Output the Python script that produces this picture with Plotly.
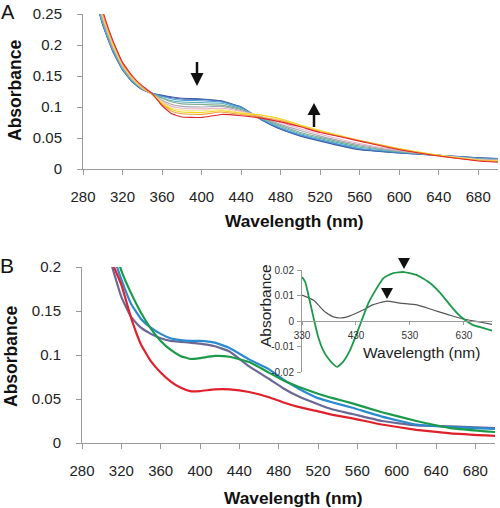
import plotly.graph_objects as go

# ---------------- Panel A data ----------------
WL_A = [290, 300, 310, 320, 330, 340, 350, 360, 370, 380, 400, 420, 440, 460, 480, 500, 520, 560, 600, 640, 680, 700]
A_00 = [.290, .232, .190, .160, .140, .128, .122, .119, .116, .114, .113, .110, .100, .080, .064, .053, .045, .031, .026, .022, .018, .017]
A_01 = [.291, .233, .191, .160, .140, .128, .122, .118, .115, .113, .112, .109, .100, .080, .065, .054, .046, .032, .026, .022, .018, .017]
A_02 = [.293, .234, .192, .161, .141, .129, .122, .117, .113, .111, .110, .108, .099, .081, .066, .055, .047, .033, .027, .022, .017, .016]
A_03 = [.296, .237, .194, .162, .142, .129, .122, .115, .110, .108, .107, .106, .097, .082, .068, .057, .049, .035, .028, .022, .017, .016]
A_04 = [.299, .239, .195, .164, .143, .130, .121, .114, .108, .105, .104, .103, .096, .083, .070, .059, .051, .037, .028, .022, .016, .015]
A_05 = [.303, .242, .198, .165, .144, .130, .121, .111, .104, .101, .100, .101, .094, .084, .072, .062, .053, .039, .029, .022, .016, .015]
A_06 = [.306, .244, .200, .166, .145, .131, .121, .109, .101, .098, .097, .098, .093, .085, .075, .065, .056, .041, .030, .022, .015, .014]
A_07 = [.309, .247, .201, .168, .146, .131, .121, .108, .098, .095, .094, .096, .091, .087, .080, .070, .061, .045, .032, .022, .015, .013]
A_08 = [.312, .249, .203, .169, .147, .132, .121, .106, .096, .092, .091, .094, .090, .087, .081, .071, .062, .046, .033, .022, .014, .013]
A_09 = [.315, .251, .205, .170, .148, .132, .120, .104, .093, .089, .088, .092, .088, .084, .078, .069, .060, .046, .032, .021, .014, .012]
A_10 = [.320, .255, .208, .172, .150, .134, .122, .102, .089, .084, .083, .088, .086, .082, .076, .068, .059, .045, .031, .021, .013, .011]
SPECTRA_A = [A_00, A_01, A_02, A_03, A_04, A_05, A_06, A_07, A_08, A_09, A_10]
COLORS_A = ['#45529A', '#3A6FB8', '#4F9AD2', '#5AAFC0', '#7FAE8E', '#A7A7B5',
            '#EAB2C4', '#F3E58A', '#F6D21A', '#F2A33A', '#DC2530']

# ---------------- Panel B data ----------------
WL_B = [305, 310, 320, 330, 340, 350, 360, 370, 380, 390, 400, 415, 430, 450, 470, 485, 500, 520, 535, 555, 585, 620, 655, 700]
B_PURPLE = [.228, .203, .166, .143, .131, .124, .119, .116, .115, .114, .113, .110, .104, .087, .073, .062, .053, .044, .038, .033, .025, .020, .019, .017]
B_BLUE = [.240, .220, .186, .158, .141, .131, .124, .119, .117, .116, .116, .114, .108, .095, .084, .072, .062, .051, .046, .040, .030, .021, .018, .016]
B_GREEN = [.250, .232, .196, .170, .148, .130, .116, .106, .099, .0955, .0965, .099, .098, .092, .080, .071, .064, .056, .051, .045, .035, .025, .017, .0125]
B_RED = [.236, .207, .180, .142, .112, .093, .080, .070, .063, .059, .059, .061, .061, .058, .052, .046, .041, .036, .032, .028, .021, .015, .011, .008]

# ---------------- Inset data ----------------
WL_IG = [330, 336, 341, 351, 360, 369, 378, 388, 395, 406, 419, 434, 443, 453, 466, 481, 499, 519, 543, 567, 586, 604, 619, 632, 647, 665, 682]
INS_GREEN = [.0173, .0153, .011, .0016, -.0063, -.0114, -.0145, -.0169, -.018, -.016, -.0114, -.0035, .0016, .007, .012, .0168, .0188, .0192, .018, .0149, .011, .0063, .0027, .0004, -.0016, -.0027, -.0038]
WL_IK = [330, 351, 373, 388, 404, 419, 443, 461, 487, 511, 543, 573, 598, 628, 659, 682]
INS_GRAY = [.0102, .0082, .0035, .0016, .0012, .002, .0043, .0063, .0078, .007, .0063, .0043, .0027, .0008, -.0004, -.0013]

X_TICKS = [280, 320, 360, 400, 440, 480, 520, 560, 600, 640, 680]
YA_TICKS = [0, 0.05, 0.1, 0.15, 0.2, 0.25]
YA_TEXT = ['0', '0.05', '0.1', '0.15', '0.2', '0.25']
YB_TICKS = [0, 0.05, 0.1, 0.15, 0.2]
YB_TEXT = ['0', '0.05', '0.1', '0.15', '0.2']
XI_TICKS = [330, 430, 530, 630]
YI_TICKS = [-0.02, -0.01, 0, 0.01, 0.02]
YI_TEXT = ['-0.02', '-0.01', '0', '0.01', '0.02']

W, H = 500, 508
FONT = 'Arial, "Liberation Sans", sans-serif'
AXC = '#9a9a9a'


def px(x):
    return x / W


def py(y):
    return 1 - y / H


fig = go.Figure()
for spec, col in zip(SPECTRA_A, COLORS_A):
    fig.add_trace(go.Scatter(x=WL_A, y=spec, mode='lines', xaxis='x', yaxis='y',
                             line=dict(color=col, width=1.1, shape='spline', smoothing=0.35),
                             hoverinfo='skip'))

for spec, col in [(B_PURPLE, '#6A6896'), (B_BLUE, '#2A8AD0'), (B_GREEN, '#1A9A4A'), (B_RED, '#E0202A')]:
    fig.add_trace(go.Scatter(x=WL_B, y=spec, mode='lines', xaxis='x2', yaxis='y2',
                             line=dict(color=col, width=2.2, shape='spline', smoothing=0.35),
                             hoverinfo='skip'))

fig.add_trace(go.Scatter(x=WL_IK, y=INS_GRAY, mode='lines', xaxis='x3', yaxis='y3',
                         line=dict(color='#555555', width=1.2, shape='spline', smoothing=0.5),
                         hoverinfo='skip'))
fig.add_trace(go.Scatter(x=WL_IG, y=INS_GREEN, mode='lines', xaxis='x3', yaxis='y3',
                         line=dict(color='#1A9A4A', width=1.8, shape='spline', smoothing=0.5),
                         hoverinfo='skip'))

common = dict(showline=True, linecolor=AXC, linewidth=1, ticks='outside', tickcolor=AXC,
              ticklen=5, showgrid=False, zeroline=False, automargin=False,
              tickfont=dict(family=FONT, size=15, color='#222'))

fig.update_layout(
    width=W, height=H, margin=dict(l=0, r=0, t=0, b=0, pad=0), autosize=False,
    paper_bgcolor='white', plot_bgcolor='rgba(0,0,0,0)', showlegend=False,
    xaxis=dict(domain=[px(83), px(498)], range=[280, 700], anchor='y', tickvals=X_TICKS,
               ticklabelstandoff=9, **common),
    yaxis=dict(domain=[py(169), py(14)], range=[0, 0.25], anchor='x', tickvals=YA_TICKS,
               ticktext=YA_TEXT, ticklabelstandoff=12, **common),
    xaxis2=dict(domain=[px(82), px(495)], range=[280, 700], anchor='y2', tickvals=X_TICKS,
                ticklabelstandoff=9, **common),
    yaxis2=dict(domain=[py(443), py(267)], range=[0, 0.2], anchor='x2', tickvals=YB_TICKS,
                ticktext=YB_TEXT, ticklabelstandoff=12, **common),
    xaxis3=dict(domain=[px(302), px(492)], range=[330, 682], anchor='free', position=py(321),
                tickvals=XI_TICKS, showline=True, linecolor=AXC, ticks='outside', tickcolor=AXC,
                ticklen=3, showgrid=False, zeroline=False, ticklabelstandoff=2, automargin=False,
                tickfont=dict(family=FONT, size=10, color='#333')),
    yaxis3=dict(domain=[py(372), py(270)], range=[-0.02, 0.02], anchor='x3', tickvals=YI_TICKS,
                ticktext=YI_TEXT, showline=True, linecolor=AXC, ticks='outside', tickcolor=AXC,
                ticklen=4, showgrid=False, zeroline=False, ticklabelstandoff=1, automargin=False,
                tickfont=dict(family=FONT, size=10, color='#333')),
)

ann = []


def label(text, x, y, size, angle=0, bold=False, color='#111'):
    t = f'<b>{text}</b>' if bold else text
    ann.append(dict(text=t, x=px(x), y=py(y), xref='paper', yref='paper', showarrow=False,
                    xanchor='center', yanchor='middle', textangle=angle,
                    font=dict(family=FONT, size=size, color=color)))


label('A', 8, 12, 20)
label('B', 7, 265, 21)
label('Wavelength (nm)', 294, 221, 17.3, bold=True)
label('Wavelength (nm)', 293, 498, 17.3, bold=True)
label('Absorbance', 15, 91, 17.5, angle=-90, bold=True)
label('Absorbance', 11, 357, 17.5, angle=-90, bold=True)
label('Wavelength (nm)', 421, 352, 15.5, color='#222')
label('Absorbance', 265, 306, 15.5, angle=-90, color='#222')
fig.update_layout(annotations=ann)

shapes = []


def tri(pts):
    d = 'M ' + ' L '.join(f'{px(a)},{py(b)}' for a, b in pts) + ' Z'
    shapes.append(dict(type='path', path=d, xref='paper', yref='paper',
                       fillcolor='#111', line=dict(color='#111', width=0)))


def shaft(x, y0, y1):
    shapes.append(dict(type='line', x0=px(x), x1=px(x), y0=py(y0), y1=py(y1),
                       xref='paper', yref='paper', line=dict(color='#111', width=2.5)))


shaft(197, 62, 74)
tri([(190.5, 73), (203.5, 73), (197, 86)])
shaft(314, 114, 127)
tri([(307.5, 115), (320.5, 115), (314, 103)])
tri([(398, 258), (410, 258), (404, 269)])
tri([(381, 288), (393, 288), (387, 299)])
fig.update_layout(shapes=shapes)

fig.write_html('out.html', config={'displayModeBar': False, 'staticPlot': True},
               post_script="document.body.style.margin='0';document.body.style.overflow='hidden';")
